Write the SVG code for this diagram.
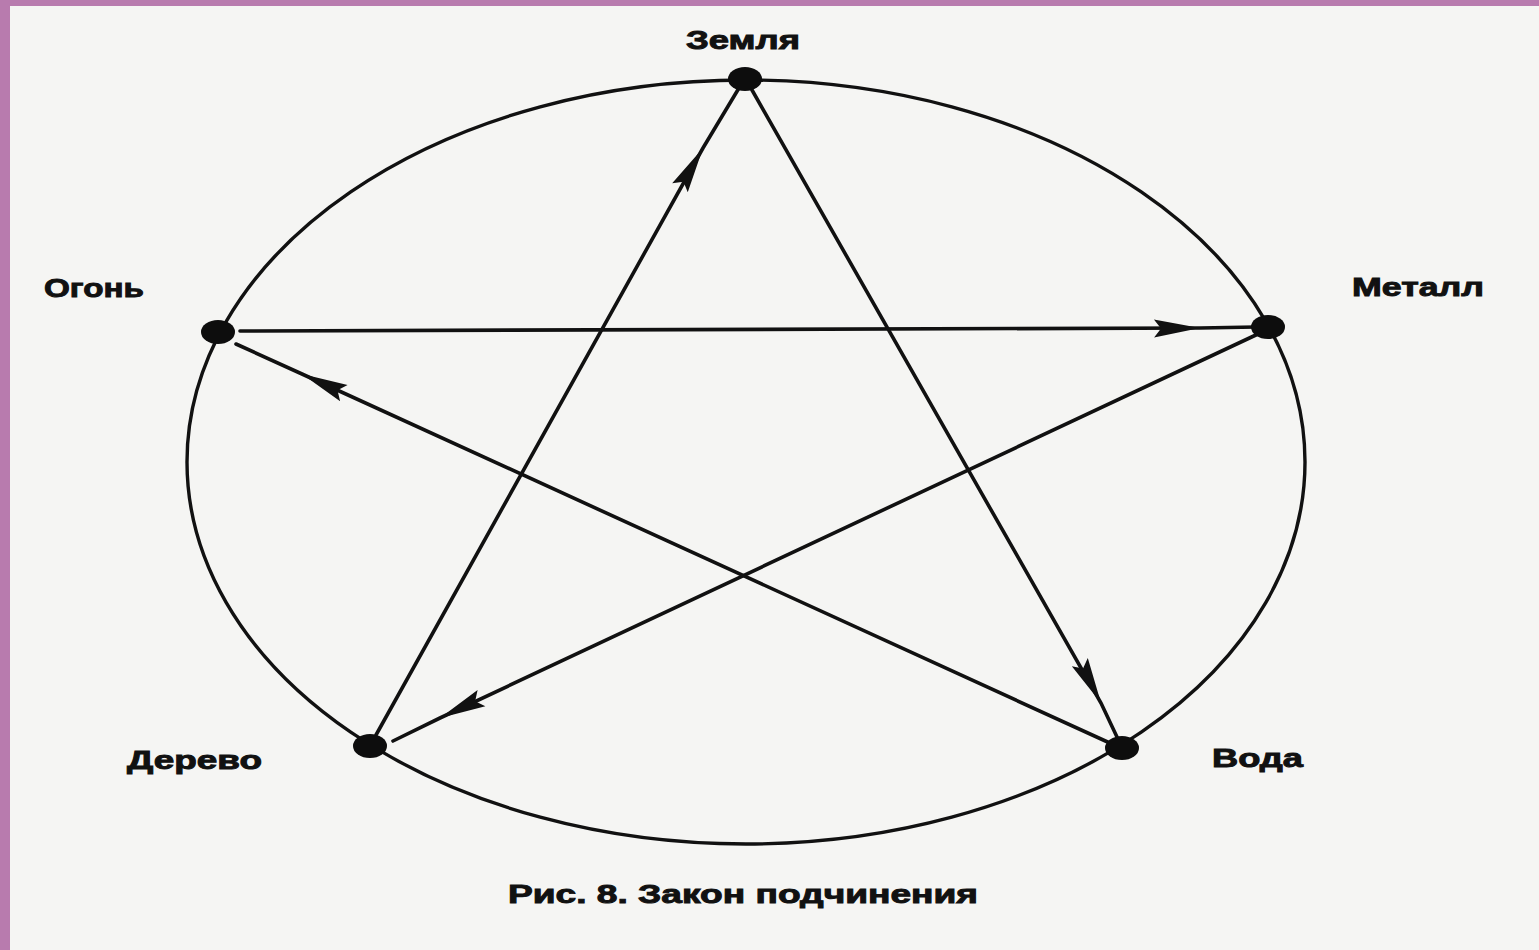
<svg xmlns="http://www.w3.org/2000/svg" width="1539" height="950" viewBox="0 0 1539 950">
  <style>
    .lbl { font-family: "Liberation Sans", Arial, sans-serif; font-weight: bold; font-size: 25px; fill: #111; stroke: #111; stroke-width: 0.9; }
    .edge { fill: none; stroke: #111; stroke-width: 3.6; stroke-linecap: round; }
    .dot { fill: #0d0d0d; }
  </style>
  <defs>
    <marker id="arr" markerUnits="userSpaceOnUse" markerWidth="60" markerHeight="30" viewBox="-50 -15 60 30" refX="0" refY="0" orient="auto">
      <path d="M0,0 L-46,-9 L-39,0 L-46,9 Z" fill="#111"/>
    </marker>
  </defs>
  <rect x="0" y="0" width="1539" height="950" fill="#b87bae"/>
  <rect x="10" y="6" width="1529" height="944" fill="#f5f5f3"/>

  <g id="circle">
    <ellipse cx="746" cy="462" rx="559" ry="382" fill="none" stroke="#111" stroke-width="3.4"/>
  </g>

  <g id="connectors">
    <path class="edge" d="M240,331 L1200,328 L1256,327" marker-mid="url(#arr)"/>
    <path class="edge" d="M1112,744 L302,374 L236,344" marker-mid="url(#arr)"/>
    <path class="edge" d="M376,735 L703,148 L739,88" marker-mid="url(#arr)"/>
    <path class="edge" d="M752,90 L1101,703 L1117,737" marker-mid="url(#arr)"/>
    <path class="edge" d="M1258,334 L440,718 L393,741" marker-mid="url(#arr)"/>
  </g>

  <g id="zemlya">
    <ellipse class="dot" cx="745" cy="79" rx="17" ry="12"/>
    <text class="lbl" x="686" y="49" textLength="114" lengthAdjust="spacingAndGlyphs">Земля</text>
  </g>
  <g id="ogon">
    <ellipse class="dot" cx="218" cy="332" rx="17" ry="12"/>
    <text class="lbl" x="44" y="297" textLength="100" lengthAdjust="spacingAndGlyphs">Огонь</text>
  </g>
  <g id="metall">
    <ellipse class="dot" cx="1268" cy="327" rx="17" ry="12"/>
    <text class="lbl" x="1352" y="296" textLength="132" lengthAdjust="spacingAndGlyphs">Металл</text>
  </g>
  <g id="derevo">
    <ellipse class="dot" cx="370" cy="746" rx="17" ry="12"/>
    <text class="lbl" x="127" y="769" textLength="135" lengthAdjust="spacingAndGlyphs">Дерево</text>
  </g>
  <g id="voda">
    <ellipse class="dot" cx="1122" cy="748" rx="17" ry="12"/>
    <text class="lbl" x="1212" y="767" textLength="91" lengthAdjust="spacingAndGlyphs">Вода</text>
  </g>

  <g id="caption">
    <text class="lbl" x="508" y="903" textLength="470" lengthAdjust="spacingAndGlyphs">Рис. 8. Закон  подчинения</text>
  </g>
</svg>
